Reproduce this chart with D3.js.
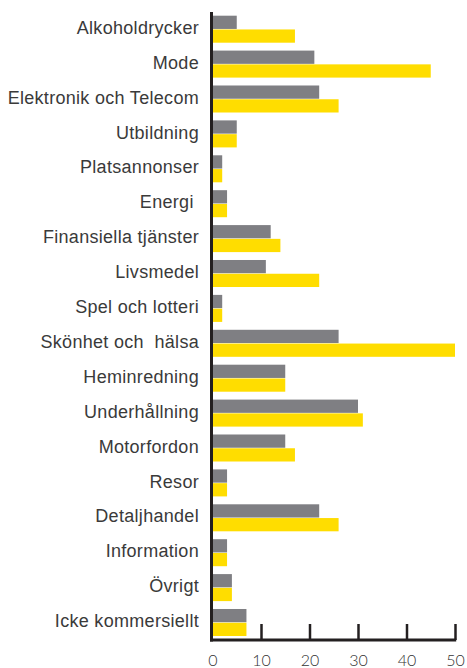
<!DOCTYPE html>
<html>
<head>
<meta charset="utf-8">
<script src="https://cdn.jsdelivr.net/npm/d3@7"></script>
<style>
  html, body { margin: 0; padding: 0; background: #fff; }
  svg { display: block; }
</style>
</head>
<body>
<svg id="chart" width="467" height="668"></svg>
<script>
const categories = [
  "Alkoholdrycker", "Mode", "Elektronik och Telecom", "Utbildning", "Platsannonser",
  "Energi ", "Finansiella tjänster", "Livsmedel", "Spel och lotteri", "Skönhet och  hälsa",
  "Heminredning", "Underhållning", "Motorfordon", "Resor", "Detaljhandel",
  "Information", "Övrigt", "Icke kommersiellt"
];
const seriesGray   = [5, 21, 22, 5, 2, 3, 12, 11, 2, 26, 15, 30, 15, 3, 22, 3, 4, 7];
const seriesYellow = [17, 45, 26, 5, 2, 3, 14, 22, 2, 50, 15, 31, 17, 3, 26, 3, 4, 7];
const seriesNames = ["gray", "yellow"];
const xTicks = [0, 10, 20, 30, 40, 50];

const colors = { gray: "#7f7f83", yellow: "#ffdd00" };
const svg = d3.select("#chart");

const x = d3.scaleLinear().domain([0, 50]).range([212.5, 455]);
const y = d3.scaleBand().domain(categories).range([11.75, 639.95])
  .paddingInner(0.226).paddingOuter(0.113);
const ySub = d3.scaleBand().domain(seriesNames).range([0, y.bandwidth()]).paddingInner(0.037);

const data = categories.map((c, i) => ({ cat: c, gray: seriesGray[i], yellow: seriesYellow[i] }));

const groups = svg.append("g").selectAll("g").data(data).join("g")
  .attr("transform", d => `translate(0,${y(d.cat)})`);

groups.selectAll("rect").data(d => seriesNames.map(s => ({ s, v: d[s] }))).join("rect")
  .attr("x", x(0))
  .attr("y", d => ySub(d.s))
  .attr("width", d => x(d.v) - x(0))
  .attr("height", ySub.bandwidth())
  .attr("fill", d => colors[d.s]);

// category labels
svg.append("g").selectAll("text").data(categories).join("text")
  .attr("x", 199)
  .attr("y", d => y(d) + y.bandwidth() / 2 + 4.6)
  .attr("text-anchor", "end")
  .attr("xml:space", "preserve")
  .style("white-space", "pre")
  .attr("font-family", "'Liberation Sans', Arial, sans-serif")
  .attr("font-size", "18px")
  .attr("letter-spacing", "0.3px")
  .attr("fill", "#3a3a3a")
  .text(d => d);

// x axis
const xAxis = d3.axisBottom(x).tickValues(xTicks).tickSize(-16).tickFormat(d3.format("d")).tickPadding(0);
const ax = svg.append("g").attr("transform", "translate(0,640)").call(xAxis);
ax.select(".domain").remove();
ax.selectAll(".tick line").attr("stroke", "#231f20").attr("stroke-width", 2.5)
  .filter(d => d === 0).remove();
ax.selectAll(".tick text")
  .attr("y", 26)
  .attr("dy", 0)
  .attr("font-family", "Lato, 'DejaVu Sans', sans-serif")
  .attr("font-weight", 300)
  .attr("font-size", "16px")
  .attr("fill", "#333");

// axis lines
svg.append("line").attr("x1", x(0) - 1).attr("x2", x(0) - 1).attr("y1", 12).attr("y2", 641.5)
  .attr("stroke", "#231f20").attr("stroke-width", 3);
svg.append("line").attr("x1", x(0) - 2.5).attr("x2", x(50) + 1.2).attr("y1", 640).attr("y2", 640)
  .attr("stroke", "#231f20").attr("stroke-width", 3);
</script>
</body>
</html>
